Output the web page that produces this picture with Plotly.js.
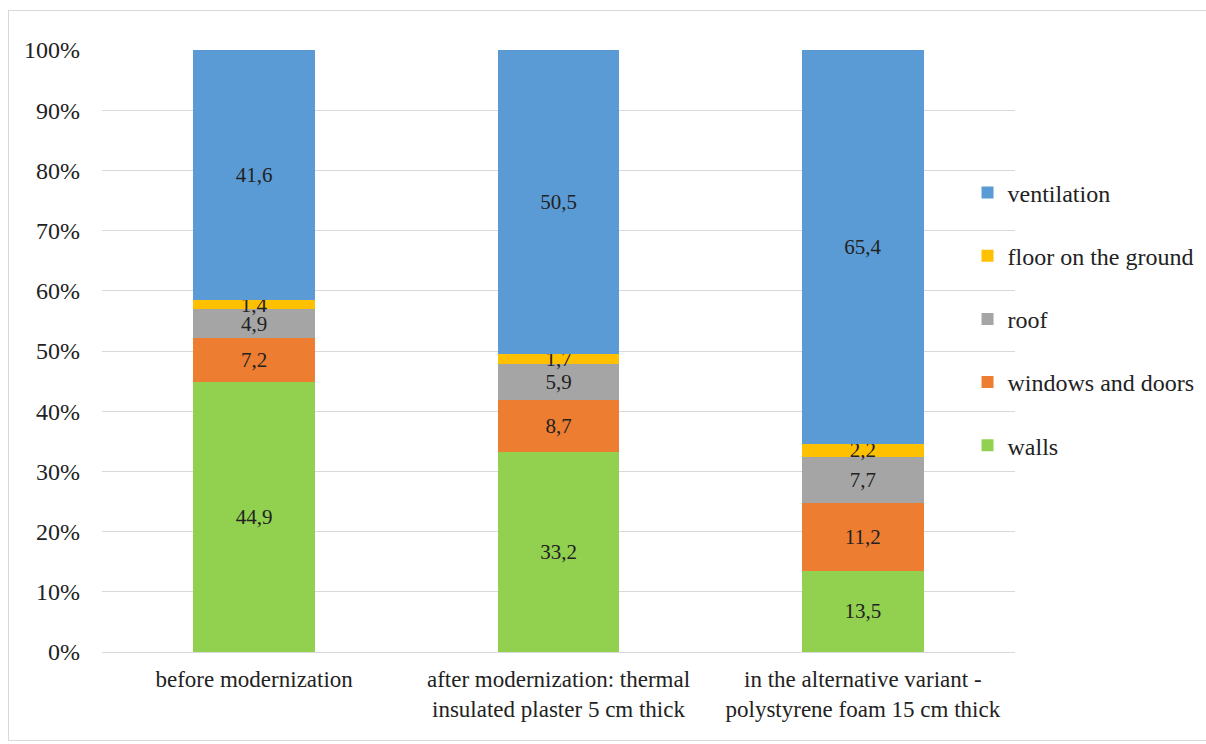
<!DOCTYPE html>
<html><head><meta charset="utf-8">
<script src="https://cdn.plot.ly/plotly-3.0.1.min.js"></script>
<style>
html,body{margin:0;padding:0;background:#fff;}
#frame{position:absolute;left:8px;top:10px;width:1210px;height:731px;border:1px solid #d9d9d9;box-sizing:border-box;}
#chart{position:absolute;left:0;top:0;width:1206px;height:744px;}
</style>
</head><body>
<div id="frame"></div>
<div id="chart"></div>
<script>
const categories = ["before modernization", "after modernization: thermal<br>insulated plaster 5 cm thick", "in the alternative variant -<br>polystyrene foam 15 cm thick"];
const walls = [44.9, 33.2, 13.5];
const windowsDoors = [7.2, 8.7, 11.2];
const roof = [4.9, 5.9, 7.7];
const floorGround = [1.4, 1.7, 2.2];
const ventilation = [41.6, 50.5, 65.4];
const yTicks = [0,10,20,30,40,50,60,70,80,90,100];
const yTickLabels = ["0%","10%","20%","30%","40%","50%","60%","70%","80%","90%","100%"];

const FONT = "Times New Roman, Liberation Serif, DejaVu Serif, serif";
const series = [
  {name: "walls", y: walls, color: "#92D050"},
  {name: "windows and doors", y: windowsDoors, color: "#ED7D31"},
  {name: "roof", y: roof, color: "#A5A5A5"},
  {name: "floor on the ground", y: floorGround, color: "#FFC000"},
  {name: "ventilation", y: ventilation, color: "#5B9BD5"}
];
const fmt = v => v.toFixed(1).replace(".", ",");
const traces = series.map((s, i) => ({
  type: "bar",
  name: s.name,
  x: categories,
  y: s.y,
  legendgroup: "g" + i,
  legendrank: 100 - i,
  marker: {color: s.color},
  text: s.y.map(fmt),
  textposition: "inside",
  insidetextanchor: "middle",
  textangle: 0,
  constraintext: "none",
  textfont: {family: FONT, size: 21, color: "#222"},
  hoverinfo: "skip"
}));

const layout = {
  width: 1206, height: 744,
  paper_bgcolor: "rgba(0,0,0,0)",
  plot_bgcolor: "rgba(0,0,0,0)",
  barmode: "stack",
  bargap: 0.6,
  margin: {l: 102, r: 191, t: 50, b: 92, autoexpand: false},
  font: {family: FONT, color: "#222"},
  xaxis: {
    tickfont: {family: FONT, size: 23, color: "#222"},
    showline: true, linecolor: "#d9d9d9", linewidth: 1,
    ticks: "", showgrid: false, ticklabelstandoff: 6
  },
  yaxis: {
    range: [0, 100], tickvals: yTicks, ticktext: yTickLabels,
    tickfont: {family: FONT, size: 24, color: "#222"},
    showgrid: true, gridcolor: "#d9d9d9", gridwidth: 1,
    zeroline: false, showline: false, ticks: "", ticklabelstandoff: 21
  },
  legend: {
    x: 0.948, xanchor: "left", y: 0.800, yanchor: "top",
    traceorder: "grouped", tracegroupgap: 29,
    font: {family: FONT, size: 24, color: "#222"},
    bgcolor: "rgba(0,0,0,0)"
  },
  showlegend: true
};
Plotly.newPlot("chart", traces, layout, {displayModeBar: false, staticPlot: true});
</script>
</body></html>
